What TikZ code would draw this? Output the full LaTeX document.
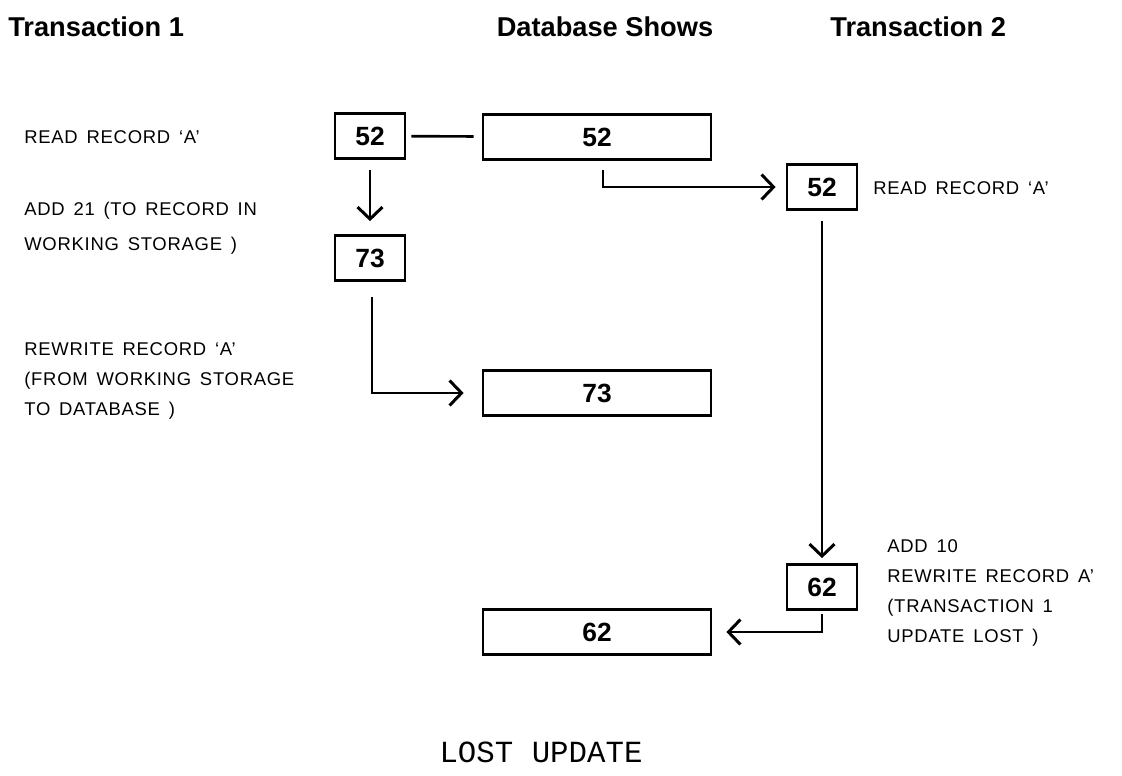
\documentclass[tikz,border=0pt]{standalone}
\usepackage{fontspec}
\setmainfont{Liberation Sans}
\newfontfamily\lblfont[LetterSpace=4,WordSpace=1.5]{Liberation Sans}
\newfontfamily\capfont{Liberation Mono}
\usetikzlibrary{arrows.meta,positioning,calc}
\tikzstyle{headnode}=[inner sep=0pt, font=\bfseries\fontsize{15.5}{18}\selectfont]
\tikzstyle{smallbox}=[rectangle, draw, line width=1.6pt, minimum width=1.4cm, minimum height=0.9cm, font=\bfseries\fontsize{15}{18}\selectfont]
\tikzstyle{dbbox}=[smallbox, minimum width=4.56cm]
\tikzstyle{lbl}=[anchor=west, align=left, inner sep=0pt, font=\lblfont\fontsize{10.5}{17}\selectfont]
\tikzstyle{flow}=[-{Straight Barb[length=0.24cm, width=0.5cm, line width=1.7pt]}, line width=1.5pt]

\begin{document}
\begin{tikzpicture}[x=0.02cm, y=-0.02cm]
  \useasboundingbox (0,0) rectangle (1122,775);
  % column heads
  \node[headnode, anchor=west] (h1) at (8,27) {Transaction 1};
  \node[headnode] (hdb) at (605,27) {Database Shows};
  \node[headnode, anchor=west] (h2) at (830,27) {Transaction 2};
  % values
  \node[smallbox] (t1a) at (370,136) {52};
  \node[dbbox] (dba) at (597,137) {52};
  \node[smallbox] (t2a) at (822,187) {52};
  \node[smallbox] (t1b) at (370,258) {73};
  \node[dbbox] (dbb) at (597,393) {73};
  \node[smallbox] (t2b) at (822,587) {62};
  \node[dbbox] (dbc) at (597,632) {62};
  % steps
  \node[lbl] (s1) at (24,137) {READ RECORD ‘A’};
  \node[lbl] (s2) at (24,228) {ADD 21 (TO RECORD IN\\[3pt]WORKING STORAGE )};
  \node[lbl] (s3) at (24,381) {REWRITE RECORD ‘A’\\(FROM WORKING STORAGE\\TO DATABASE )};
  \node[lbl] (s4) at (873,188) {READ RECORD ‘A’};
  \node[lbl] (s5) at (887,593) {ADD 10\\REWRITE RECORD A’\\(TRANSACTION 1\\UPDATE LOST )};
  \node[font=\capfont\fontsize{17.5}{20}\selectfont] (cap) at (541,752) {LOST UPDATE};
  % connectors
  \draw[line width=1.5pt, shorten <=0.1cm, shorten >=0.16cm] (t1a) -- (dba);
  \draw[flow, shorten <=0.2cm, shorten >=0.26cm] (t1a) -- (t1b);
  \draw[flow, shorten <=0.18cm, shorten >=0.2cm] ([xshift=0.12cm]dba.south) |- (t2a.west);
  \draw[flow, shorten <=0.3cm, shorten >=0.36cm] ([xshift=0.04cm]t1b.south) |- (dbb.west);
  \draw[flow, shorten <=0.2cm, shorten >=0.1cm] (t2a) -- (t2b);
  \draw[flow, shorten <=0.06cm, shorten >=0.28cm] (t2b.south) |- (dbc.east);
\end{tikzpicture}
\end{document}
